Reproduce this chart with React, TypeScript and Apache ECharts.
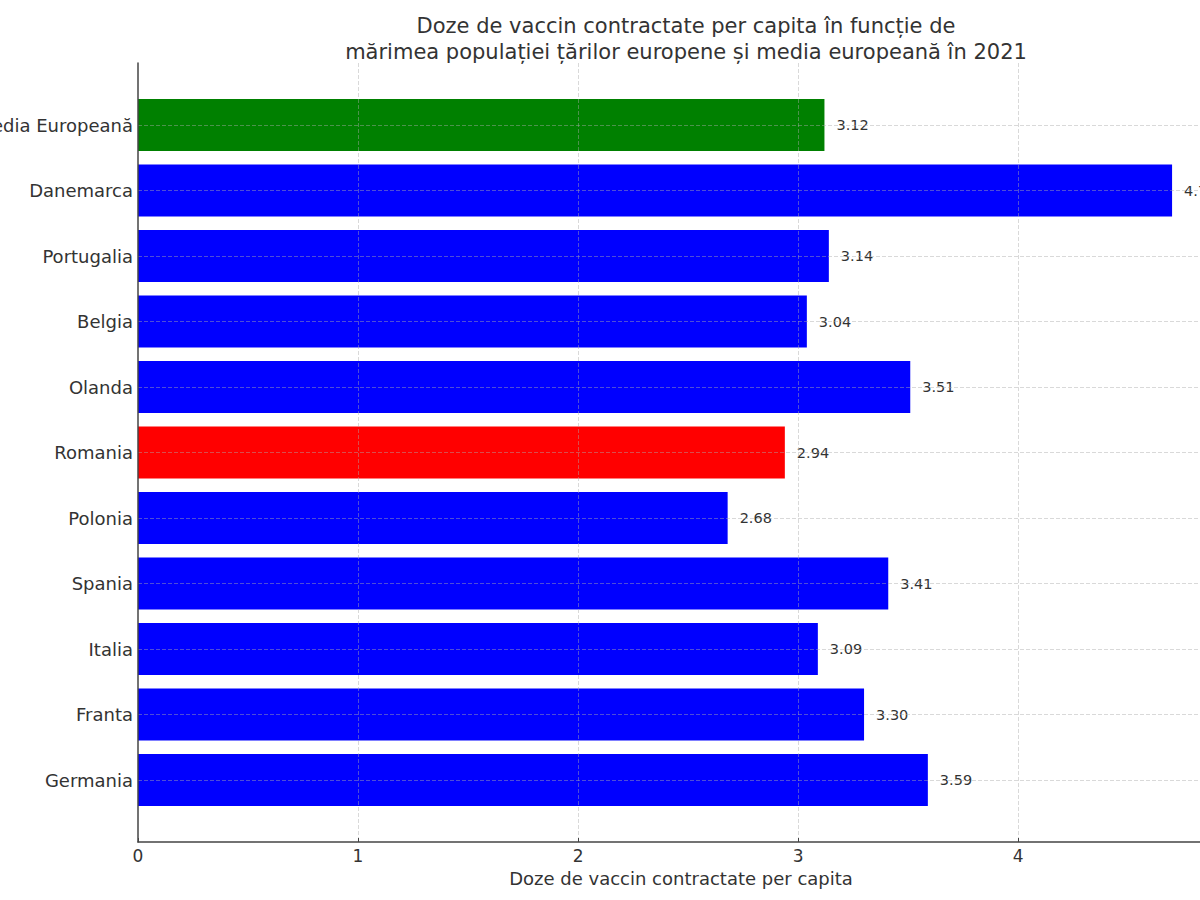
import React, { useEffect, useRef } from "react";
import * as echarts from "echarts";

const categories = [
  "Media Europeană",
  "Danemarca",
  "Portugalia",
  "Belgia",
  "Olanda",
  "Romania",
  "Polonia",
  "Spania",
  "Italia",
  "Franta",
  "Germania",
];
const values = [3.12, 4.7, 3.14, 3.04, 3.51, 2.94, 2.68, 3.41, 3.09, 3.3, 3.59];
const barColors = [
  "#008000",
  "#0000ff",
  "#0000ff",
  "#0000ff",
  "#0000ff",
  "#ff0000",
  "#0000ff",
  "#0000ff",
  "#0000ff",
  "#0000ff",
  "#0000ff",
];
const xMax = 4.936;
const titleText =
  "Doze de vaccin contractate per capita în funcție de\nmărimea populației țărilor europene și media europeană în 2021";
const xName = "Doze de vaccin contractate per capita";

const FONT = "DejaVu Sans";
const SHIFT = 100; // div starts 100px left of the page origin

export default function App() {
  const ref = useRef<HTMLDivElement>(null);
  useEffect(() => {
    if (!ref.current) return;
    const chart = echarts.init(ref.current, undefined, { renderer: "svg" });
    const gridLeft = 138 + SHIFT;
    const gridRightPage = 1224;
    const divWidth = 1340;
    const gridRight = divWidth - (gridRightPage + SHIFT);
    const gridStyle = { color: "rgba(170,170,170,0.45)", width: 1, type: [4, 2] as any };
    chart.setOption({
      animation: false,
      backgroundColor: "#ffffff",
      textStyle: { fontFamily: FONT },
      title: {
        text: titleText,
        left: 681 + SHIFT,
        top: 8,
        textAlign: "center",
        textStyle: {
          fontFamily: FONT,
          fontSize: 21,
          fontWeight: "normal",
          color: "#333333",
          lineHeight: 26,
        },
      },
      grid: [
        { left: gridLeft, right: gridRight, top: 63, height: 779 },
        { left: gridLeft, right: gridRight, top: 125, height: 655 },
      ],
      xAxis: [
        {
          gridIndex: 0,
          type: "value",
          min: 0,
          max: xMax,
          interval: 1,
          z: 3,
          axisLine: { show: true, lineStyle: { color: "#444", width: 1.5 } },
          axisTick: { show: true, inside: true, length: 4, lineStyle: { color: "#444" } },
          axisLabel: {
            fontSize: 17,
            color: "#333333",
            fontFamily: FONT,
            margin: 5,
            showMaxLabel: false,
          },
          splitLine: { show: true, showMinLine: false, lineStyle: gridStyle },
          name: xName,
          nameLocation: "middle",
          nameGap: 27,
          nameTextStyle: { fontSize: 18, color: "#333333", fontFamily: FONT },
        },
        {
          gridIndex: 1,
          type: "value",
          min: 0,
          max: xMax,
          show: false,
          splitLine: { show: false },
        },
      ],
      yAxis: [
        {
          gridIndex: 0,
          type: "value",
          min: 0,
          max: 1,
          z: 4,
          axisLine: { show: true, lineStyle: { color: "#444", width: 1.5 } },
          axisTick: { show: false },
          axisLabel: { show: false },
          splitLine: { show: false },
        },
        {
          gridIndex: 1,
          type: "category",
          data: categories,
          inverse: true,
          boundaryGap: false,
          z: 3,
          axisLine: { show: false },
          axisTick: { show: false },
          axisLabel: {
            fontSize: 18,
            color: "#333333",
            fontFamily: FONT,
            margin: 5,
          },
          splitLine: { show: true, lineStyle: gridStyle },
        },
      ],
      series: [
        {
          type: "scatter",
          xAxisIndex: 0,
          yAxisIndex: 0,
          data: [],
        },
        {
          type: "bar",
          xAxisIndex: 1,
          yAxisIndex: 1,
          clip: false,
          barWidth: 52,
          data: values.map((v, i) => ({
            value: v,
            itemStyle: { color: barColors[i] },
          })),
          label: {
            show: true,
            position: "right",
            distance: 12,
            fontSize: 14.5,
            color: "#333333",
            fontFamily: FONT,
            formatter: (p: any) => Number(p.value).toFixed(2),
          },
        },
      ],
    });
    return () => chart.dispose();
  }, []);
  return (
    <div
      ref={ref}
      style={{
        position: "absolute",
        left: -SHIFT,
        top: 0,
        width: 1340,
        height: 900,
      }}
    />
  );
}
